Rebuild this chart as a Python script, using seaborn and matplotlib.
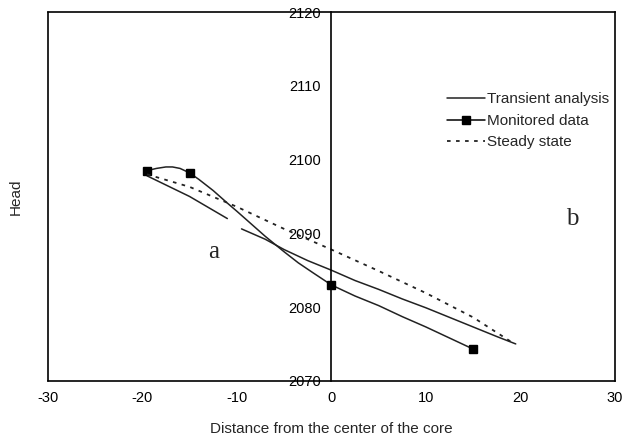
import matplotlib
matplotlib.use("Agg")
import matplotlib.pyplot as plt
import seaborn as sns

# monitored data points and smooth curve through them
mon_x = [-19.5, -15, 0, 15]
mon_y = [2098.5, 2098.2, 2083.0, 2074.3]
mon_cx = [-19.5, -18.5, -17.5, -16.8, -16, -15, -14, -12.5, -11, -10, -8.5, -7, -5, -3.5, -2, 0,
          2.5, 5, 7.5, 10, 12.5, 15]
mon_cy = [2098.5, 2098.8, 2099.0, 2099.0, 2098.8, 2098.2, 2097.3, 2095.8, 2094.1, 2093.0, 2091.3,
          2089.6, 2087.5, 2086.0, 2084.7, 2083.0, 2081.5, 2080.2, 2078.7, 2077.3, 2075.8, 2074.3]

# transient analysis (two pieces, with a gap)
tr1_x = [-19.5, -15, -11]
tr1_y = [2097.8, 2095.0, 2092.0]
tr2_x = [-9.5, -7, -5, -2.5, 0, 2.5, 5, 7.5, 10, 12.5, 15, 17.5, 19.5]
tr2_y = [2090.6, 2089.2, 2087.8, 2086.3, 2085.0, 2083.6, 2082.4, 2081.1, 2079.9, 2078.6, 2077.3, 2076.0, 2075.0]

# steady state
ss_x = [-19.5, -15, -10, -5, 0, 5, 10, 15, 19]
ss_y = [2098.0, 2096.3, 2093.6, 2090.6, 2087.8, 2084.9, 2081.9, 2078.6, 2075.3]

sns.set_style("white")
plt.rcParams['font.family'] = ['Liberation Sans', 'DejaVu Sans']
plt.rcParams['axes.unicode_minus'] = False

fig, ax = plt.subplots(figsize=(6.36, 4.48), dpi=100)
fig.subplots_adjust(left=0.075, right=0.967, top=0.973, bottom=0.15)

sns.lineplot(x=tr1_x, y=tr1_y, ax=ax, color='#222222', lw=1.1, label='Transient analysis')
sns.lineplot(x=tr2_x, y=tr2_y, ax=ax, color='#222222', lw=1.1)
sns.lineplot(x=mon_cx, y=mon_cy, ax=ax, color='#222222', lw=1.1, sort=False)
ax.plot(mon_x, mon_y, 's', color='black', ms=6)
ax.plot([], [], 's-', color='black', ms=6, lw=1.1, label='Monitored data')
sns.lineplot(x=ss_x, y=ss_y, ax=ax, color='#222222', lw=1.3, linestyle=(0, (2, 3)), label='Steady state')

ax.set_xlim(-30, 30)
ax.set_ylim(2070, 2120)
ax.set_xticks(range(-30, 31, 10))
ax.set_yticks(range(2070, 2121, 10))

# y axis drawn through x = 0, plus a box frame
ax.spines['left'].set_position(('data', 0))
for s in ax.spines.values():
    s.set_color('black')
    s.set_linewidth(1.2)
ax.axvline(-30, color='black', lw=1.2, clip_on=False)
ax.tick_params(axis='both', length=4, direction='out', labelsize=10.5, colors='black')

ax.set_xlabel('Distance from the center of the core', fontsize=11, labelpad=12)
ax.set_ylabel('')
fig.text(0.025, 0.56, 'Head', rotation=90, fontsize=11, ha='center', va='center')

ax.text(-12.5, 2087.5, 'a', family='Liberation Serif', fontsize=18, ha='center', va='center')
ax.text(25.5, 2092, 'b', family='Liberation Serif', fontsize=18, ha='center', va='center')

leg = ax.legend(loc='upper left', bbox_to_anchor=(0.68, 0.82), frameon=False,
                fontsize=11, handlelength=2.5, handletextpad=0.1, labelspacing=0.5)

fig.savefig('out.png', dpi=100)
